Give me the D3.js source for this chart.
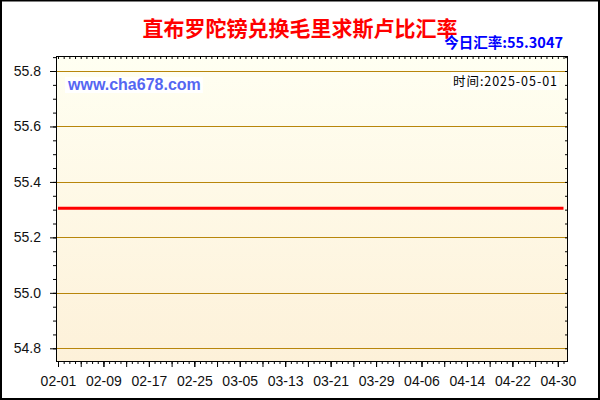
<!DOCTYPE html>
<html><head><meta charset="utf-8">
<script src="https://cdn.jsdelivr.net/npm/d3@7/dist/d3.min.js"></script>
<style>
html,body{margin:0;padding:0;background:#fff;}
svg{display:block;}
</style></head>
<body>
<svg id="c" width="600" height="400"></svg>
<script>
// ---- data ----
const titleText = "直布罗陀镑兑换毛里求斯卢比汇率";
const rateLabel = "今日汇率:55.3047";
const timeLabel = "时间:2025-05-01";
const watermark = "www.cha678.com";
const startDate = "2025-02-01";
const endDate = "2025-05-01";
const rates = [
55.3047,55.3047,55.3047,55.3047,55.3047,55.3047,55.3047,55.3047,55.3047,55.3047,
55.3047,55.3047,55.3047,55.3047,55.3047,55.3047,55.3047,55.3047,55.3047,55.3047,
55.3047,55.3047,55.3047,55.3047,55.3047,55.3047,55.3047,55.3047,55.3047,55.3047,
55.3047,55.3047,55.3047,55.3047,55.3047,55.3047,55.3047,55.3047,55.3047,55.3047,
55.3047,55.3047,55.3047,55.3047,55.3047,55.3047,55.3047,55.3047,55.3047,55.3047,
55.3047,55.3047,55.3047,55.3047,55.3047,55.3047,55.3047,55.3047,55.3047,55.3047,
55.3047,55.3047,55.3047,55.3047,55.3047,55.3047,55.3047,55.3047,55.3047,55.3047,
55.3047,55.3047,55.3047,55.3047,55.3047,55.3047,55.3047,55.3047,55.3047,55.3047,
55.3047,55.3047,55.3047,55.3047,55.3047,55.3047,55.3047,55.3047,55.3047,55.3047
];
const xTickLabels = ["02-01","02-09","02-17","02-25","03-05","03-13","03-21","03-29","04-06","04-14","04-22","04-30"];
const yTickLabels = ["54.8","55.0","55.2","55.4","55.6","55.8"];

// ---- layout ----
const svg = d3.select("#c");
const parse = d3.timeParse("%Y-%m-%d");
const d0 = parse(startDate), d1 = parse(endDate);
const dates = d3.timeDay.range(d0, d3.timeDay.offset(d1, 1));
const data = dates.map((d, i) => ({date: d, value: rates[i]}));

const P = {left: 56, right: 568, top: 56, bottom: 361};
const x = d3.scaleTime().domain([d0, d1]).range([58, 563.5]);
const yMajor = yTickLabels.map(Number);
const y = d3.scaleLinear().domain([yMajor[0], yMajor[yMajor.length - 1]]).range([348.3, 71]);

// outer frame
svg.append("rect").attr("x", 1).attr("y", 0.5).attr("width", 598).attr("height", 398.5)
  .attr("fill", "#fff").attr("stroke", "#000").attr("stroke-width", 2);
svg.append("rect").attr("x", 0).attr("y", 0).attr("width", 600).attr("height", 1).attr("fill", "#000");

// plot background gradient
const defs = svg.append("defs");
const g = defs.append("linearGradient").attr("id", "bg").attr("x1", 0).attr("y1", 0).attr("x2", 0).attr("y2", 1);
g.append("stop").attr("offset", "0%").attr("stop-color", "#FFFFF2");
g.append("stop").attr("offset", "100%").attr("stop-color", "#FDF1D9");
svg.append("rect").attr("x", P.left).attr("y", P.top)
  .attr("width", P.right - P.left).attr("height", P.bottom - P.top).attr("fill", "url(#bg)");

// gridlines
svg.append("g").selectAll("line").data(yMajor).join("line")
  .attr("x1", P.left).attr("x2", P.right)
  .attr("y1", d => Math.round(y(d)) + 0.5).attr("y2", d => Math.round(y(d)) + 0.5)
  .attr("stroke", "#B8860B").attr("stroke-width", 1);

// watermark & time label with white backing
function labelWithBg(txt, attrs) {
  const t = svg.append("text").text(txt);
  Object.entries(attrs).forEach(([k, v]) => t.attr(k, v));
  const b = t.node().getBBox();
  svg.insert("rect", () => t.node()).attr("x", b.x - 2).attr("y", b.y + 1)
    .attr("width", b.width + 4).attr("height", b.height - 1).attr("fill", "#fff");
  return t;
}
labelWithBg(watermark, {x: 68, y: 90, "font-family": "Liberation Sans, Arial, sans-serif",
  "font-size": 16, "font-weight": "bold", fill: "#5566F2"});
labelWithBg(timeLabel, {x: 557, y: 86, "text-anchor": "end", "font-family": "Noto Sans CJK SC, sans-serif",
  "font-size": 12.5, fill: "#000", textLength: 104, lengthAdjust: "spacing"});

// y axes (left: outward ticks, right: inward)
const yMinor = d3.range(0, 22).map(i => +(yMajor[0] + i * 0.05).toFixed(2));
const axisFont = "Liberation Sans, Arial, sans-serif";
function styleAxis(sel) { sel.select(".domain").remove(); sel.selectAll("line").attr("stroke", "#000"); }
svg.append("g").attr("transform", `translate(${P.left},0)`)
  .call(d3.axisLeft(y).tickValues(yMinor).tickSize(3).tickFormat(""))
  .call(styleAxis);
svg.append("g").attr("transform", `translate(${P.left},0)`)
  .call(d3.axisLeft(y).tickValues(yMajor).tickSize(6).tickPadding(9).tickFormat((d, i) => yTickLabels[i]))
  .call(styleAxis)
  .call(s => s.selectAll("text").attr("font-family", axisFont).attr("font-size", 14).attr("fill", "#111"));
svg.append("g").attr("transform", `translate(${P.right},0)`)
  .call(d3.axisLeft(y).tickValues(yMinor).tickSize(3).tickFormat(""))
  .call(styleAxis)
  .call(s => s.selectAll("line").attr("x2", -3).attr("x1", 0));

// x axes
const dayTicks = d3.timeDay.range(d0, d3.timeDay.offset(d1, 1));
const fourTicks = dayTicks.filter((d, i) => i % 4 === 0);
const labelDates = xTickLabels.map(s => parse("2025-" + s));
svg.append("g").attr("transform", `translate(0,${P.bottom})`)
  .call(d3.axisBottom(x).tickValues(dayTicks).tickSize(3).tickFormat(""))
  .call(styleAxis);
svg.append("g").attr("transform", `translate(0,${P.bottom})`)
  .call(d3.axisBottom(x).tickValues(fourTicks).tickSize(6).tickFormat(""))
  .call(styleAxis);
svg.append("g").attr("transform", `translate(0,${P.bottom})`)
  .call(d3.axisBottom(x).tickValues(labelDates).tickSize(6).tickPadding(9).tickFormat((d, i) => xTickLabels[i]))
  .call(styleAxis)
  .call(s => s.selectAll("text").attr("font-family", axisFont).attr("font-size", 14).attr("fill", "#111"));
// top inward ticks
svg.append("g").attr("transform", `translate(0,${P.top})`)
  .call(d3.axisBottom(x).tickValues(dayTicks).tickSize(3).tickFormat(""))
  .call(styleAxis);

// plot border
svg.append("rect").attr("x", P.left + 0.5).attr("y", P.top + 0.5)
  .attr("width", P.right - P.left - 1).attr("height", P.bottom - P.top)
  .attr("fill", "none").attr("stroke", "#000").attr("stroke-width", 1);

// data line
svg.append("path").datum(data)
  .attr("d", d3.line().x(d => x(d.date)).y(d => y(d.value)))
  .attr("fill", "none").attr("stroke", "#FF0000").attr("stroke-width", 3);

// titles
svg.append("text").attr("x", 300).attr("y", 36).attr("text-anchor", "middle")
  .attr("font-family", "Noto Sans CJK SC, sans-serif").attr("font-size", 21).attr("font-weight", "bold")
  .attr("fill", "#FF0000").text(titleText);
svg.append("text").attr("x", 563).attr("y", 48).attr("text-anchor", "end")
  .attr("font-family", "Noto Sans CJK SC, sans-serif").attr("font-size", 14.5).attr("font-weight", "bold")
  .attr("fill", "#0000FF").text(rateLabel);
</script>
</body></html>
